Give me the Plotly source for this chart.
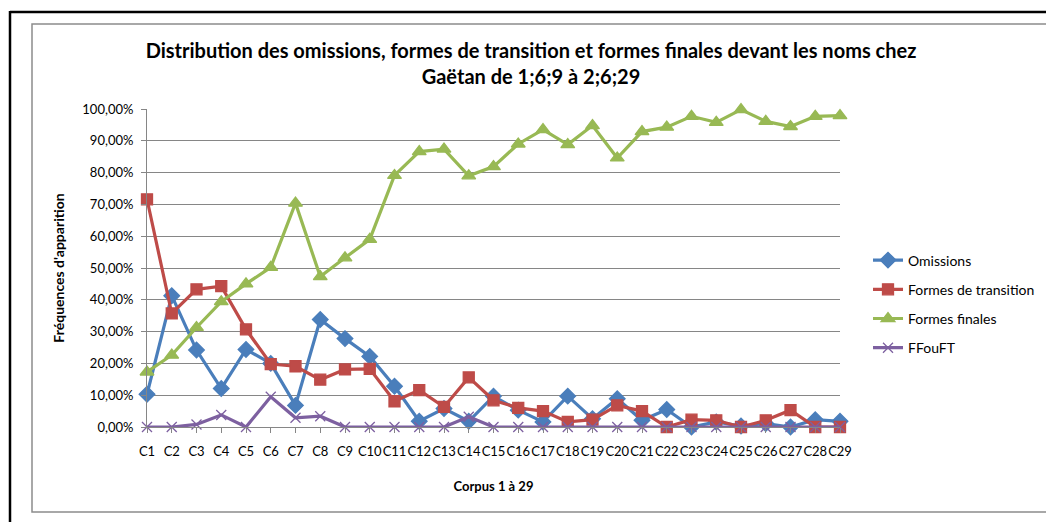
import plotly.graph_objects as go

categories = [f"C{i}" for i in range(1, 30)]

omissions = [10.3, 41.3, 24.2, 12.1, 24.4, 20.0, 6.8, 33.8, 27.8, 22.2,
             12.8, 1.8, 5.8, 1.8, 9.7, 5.3, 1.6, 9.7, 2.6, 8.9,
             2.1, 5.5, 0.0, 1.6, 0.3, 1.1, 0.0, 2.3, 1.8]
formes_transition = [71.6, 35.7, 43.3, 44.3, 30.7, 19.8, 19.1, 14.9, 18.1, 18.3,
                     8.1, 11.6, 6.3, 15.6, 8.4, 6.0, 5.0, 1.6, 2.3, 6.8,
                     5.0, 0.0, 2.3, 2.1, 0.0, 2.1, 5.3, 0.0, 0.0]
formes_finales = [17.3, 22.6, 31.3, 39.4, 45.0, 50.2, 70.4, 47.3, 53.2, 59.0,
                  79.1, 86.6, 87.4, 79.0, 81.9, 89.0, 93.5, 88.8, 94.8, 84.6,
                  92.9, 94.3, 97.7, 95.8, 99.8, 96.1, 94.5, 97.7, 97.9]
ffouft = [0.0, 0.0, 0.8, 3.8, 0.0, 9.5, 2.9, 3.4, 0.0, 0.0,
          0.0, 0.0, 0.0, 3.2, 0.0, 0.0, 0.0, 0.0, 0.0, 0.0,
          0.0, 0.0, 0.0, 0.0, 0.0, 0.0, 0.0, 0.0, 0.0]

series = [
    ("Omissions", omissions, "#4A7EBB", "diamond", 12),
    ("Formes de transition", formes_transition, "#BE4B48", "square", 11),
    ("Formes finales", formes_finales, "#98B954", "triangle-up", 12),
    ("FFouFT", ffouft, "#7D60A0", "x-thin-open", 10),
]

# page body has an 8px margin: figure pixel = screen pixel - 8
OFF = 8
W, H = 1046, 514
L, R, T, B = 147 - OFF, 840 - OFF, 109 - OFF, 427 - OFF
FONT = "Lato, Carlito, Calibri, sans-serif"

fig = go.Figure()
for i, (name, vals, color, sym, size) in enumerate(series):
    fig.add_trace(go.Scatter(
        x=categories, y=[v / 100 for v in vals], name=name, mode="lines+markers",
        line=dict(color=color, width=3.2),
        marker=dict(symbol=sym, size=size, color=color,
                    line=dict(color=color, width=1.3)),
        legendgroup=f"g{i}", cliponaxis=False,
    ))

def px_x(p):
    return (p - OFF - L) / (R - L)

def px_y(p):
    return (B - (p - OFF)) / (B - T)

shapes = [
    dict(type="line", xref="paper", yref="paper", x0=px_x(10), x1=px_x(1060), y0=px_y(12), y1=px_y(12),
         line=dict(color="black", width=2.5)),
    dict(type="line", xref="paper", yref="paper", x0=px_x(10), x1=px_x(10), y0=px_y(11), y1=px_y(530),
         line=dict(color="black", width=2.5)),
    dict(type="rect", xref="paper", yref="paper", x0=px_x(32), x1=px_x(1050.5), y0=px_y(24), y1=px_y(512),
         line=dict(color="#8C8C8C", width=1.5)),
]

fig.update_layout(
    width=W, height=H,
    margin=dict(l=L, r=W - R, t=T, b=H - B, pad=0),
    paper_bgcolor="white", plot_bgcolor="white",
    separators=", ",
    font=dict(family=FONT, size=13, color="black"),
    title=dict(
        text="<b>Distribution des omissions, formes de transition et formes finales devant les noms chez<br>Gaëtan de 1;6;9 à 2;6;29</b>",
        x=0.5, xanchor="center", y=1 - 49.5 / H, yanchor="middle",
        font=dict(family=FONT, size=20, color="black"),
    ),
    xaxis=dict(
        type="category", range=[0, 28], showgrid=False,
        showline=True, linecolor="#868686", linewidth=1,
        ticks="outside", ticklen=5, tickcolor="#868686",
        tickfont=dict(size=13), tickangle=0, ticklabelstandoff=7,
        title=dict(text="<b>Corpus 1 à 29</b>", font=dict(size=13), standoff=24),
        zeroline=False,
    ),
    yaxis=dict(
        range=[0, 1], dtick=0.1, tickformat=".2%",
        showgrid=True, gridcolor="#868686", gridwidth=1,
        showline=True, linecolor="#868686", linewidth=1,
        ticks="outside", ticklen=5, tickcolor="#868686",
        tickfont=dict(size=13), ticklabelstandoff=5,
        title=dict(text="<b>Fréquences d'apparition</b>", font=dict(size=14), standoff=14),
        zeroline=False,
    ),
    legend=dict(
        x=px_x(868), xanchor="left", y=px_y(304), yanchor="middle",
        font=dict(size=14), tracegroupgap=8, traceorder="grouped",
        bgcolor="rgba(0,0,0,0)", itemwidth=30,
    ),
    shapes=shapes,
    showlegend=True,
)

fig.write_html("out.html")
